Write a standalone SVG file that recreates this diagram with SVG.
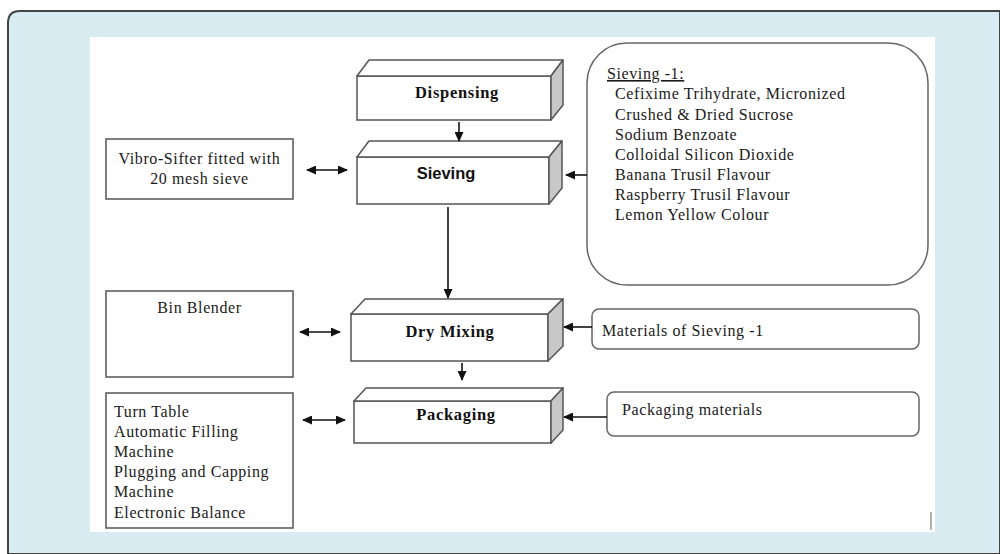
<svg xmlns="http://www.w3.org/2000/svg" width="1000" height="554" viewBox="0 0 1000 554">
<defs>
<marker id="ah" markerUnits="userSpaceOnUse" markerWidth="10" markerHeight="9" refX="9" refY="4.5" orient="auto-start-reverse">
<path d="M0,0 L10,4.5 L0,9 Z" fill="#111"/>
</marker>
</defs>
<style>
.box{fill:#fff;stroke:#555;stroke-width:1.5}
.side{fill:#c8c8c8;stroke:#555;stroke-width:1.5;stroke-linejoin:round}
.top{fill:#fff;stroke:#555;stroke-width:1.5;stroke-linejoin:round}
.lbl{font-family:"Liberation Serif",serif;font-weight:bold;font-size:16.5px;letter-spacing:0.7px;fill:#111;text-anchor:middle}
.txt{font-family:"Liberation Serif",serif;font-size:16px;letter-spacing:0.6px;fill:#1a1a1a}
.con{stroke:#111;stroke-width:1.6;fill:none}
</style>
<rect x="0" y="0" width="1000" height="554" fill="#fff"/>
<path d="M8,554 L8,23 Q8,11 20,11 L1000,11 L1000,554 Z" fill="#d8ecf1" stroke="#444" stroke-width="2"/>
<rect x="90" y="37" width="845" height="495" fill="#fff"/>
<line x1="931" y1="512" x2="931" y2="530" stroke="#999" stroke-width="1.5"/>

<g id="dispensing">
<rect class="box" x="357" y="76" width="194" height="44"/>
<path class="top" d="M357,76 L369,60 L563,60 L551,76 Z"/>
<path class="side" d="M551,76 L563,60 L563,105 L551,120 Z"/>
<text class="lbl" x="457" y="98">Dispensing</text>
</g>

<g id="sieving">
<rect class="box" x="357" y="157" width="192" height="47"/>
<path class="top" d="M357,157 L369,141 L562,141 L549,157 Z"/>
<path class="side" d="M549,157 L562,141 L562,188 L549,204 Z"/>
<text x="446" y="179" style="font-family:'Liberation Sans',Arial,sans-serif;font-weight:bold;font-size:16.5px;fill:#111;text-anchor:middle">Sieving</text>
</g>

<g id="drymixing">
<rect class="box" x="351" y="314" width="197" height="47"/>
<path class="top" d="M351,314 L365,299 L563,299 L548,314 Z"/>
<path class="side" d="M548,314 L563,299 L563,346 L548,361 Z"/>
<text class="lbl" x="450" y="337">Dry Mixing</text>
</g>

<g id="packaging">
<rect class="box" x="354" y="401" width="197" height="42"/>
<path class="top" d="M354,401 L366,388 L563,388 L551,401 Z"/>
<path class="side" d="M551,401 L563,388 L563,430 L551,443 Z"/>
<text class="lbl" x="456" y="420">Packaging</text>
</g>

<g id="vibrosifter">
<rect class="box" x="106" y="139" width="187" height="60"/>
<text class="txt" x="199.5" y="164" text-anchor="middle">Vibro-Sifter fitted with</text>
<text class="txt" x="199.5" y="184" text-anchor="middle">20 mesh sieve</text>
</g>

<g id="binblender">
<rect class="box" x="106" y="291" width="187" height="86"/>
<text class="txt" x="199.5" y="313" text-anchor="middle">Bin Blender</text>
</g>

<g id="equipment">
<rect class="box" x="106" y="393" width="187" height="135"/>
<text class="txt" x="114" y="417">Turn Table</text>
<text class="txt" x="114" y="437">Automatic Filling</text>
<text class="txt" x="114" y="457">Machine</text>
<text class="txt" x="114" y="477">Plugging and Capping</text>
<text class="txt" x="114" y="497">Machine</text>
<text class="txt" x="114" y="518">Electronic Balance</text>
</g>

<g id="sieving1">
<rect x="587" y="43" width="341" height="242" rx="40" ry="40" fill="#fff" stroke="#666" stroke-width="1.5"/>
<text class="txt" x="607" y="79" text-decoration="underline">Sieving -1:</text>
<text class="txt" x="615" y="99">Cefixime Trihydrate, Micronized</text>
<text class="txt" x="615" y="120">Crushed &amp; Dried Sucrose</text>
<text class="txt" x="615" y="140">Sodium Benzoate</text>
<text class="txt" x="615" y="160">Colloidal Silicon Dioxide</text>
<text class="txt" x="615" y="180">Banana Trusil Flavour</text>
<text class="txt" x="615" y="200">Raspberry Trusil Flavour</text>
<text class="txt" x="615" y="220">Lemon Yellow Colour</text>
</g>

<g id="materials">
<rect x="592" y="309" width="327" height="40" rx="7" ry="7" fill="#fff" stroke="#666" stroke-width="1.5"/>
<text class="txt" x="602" y="336">Materials of Sieving -1</text>
</g>

<g id="packmaterials">
<rect x="607" y="392" width="312" height="44" rx="7" ry="7" fill="#fff" stroke="#666" stroke-width="1.5"/>
<text class="txt" x="622" y="415">Packaging materials</text>
</g>

<g id="connectors">
<line class="con" x1="459" y1="122" x2="459" y2="141" marker-end="url(#ah)"/>
<line class="con" x1="448" y1="207" x2="448" y2="298" marker-end="url(#ah)"/>
<line class="con" x1="462" y1="363" x2="462" y2="380" marker-end="url(#ah)"/>
<line class="con" x1="587" y1="175" x2="566" y2="175" marker-end="url(#ah)"/>
<line class="con" x1="592" y1="327" x2="564" y2="327" marker-end="url(#ah)"/>
<line class="con" x1="607" y1="417" x2="564" y2="417" marker-end="url(#ah)"/>
<line class="con" x1="307" y1="170" x2="347" y2="170" marker-start="url(#ah)" marker-end="url(#ah)"/>
<line class="con" x1="300" y1="332" x2="340" y2="332" marker-start="url(#ah)" marker-end="url(#ah)"/>
<line class="con" x1="303" y1="420" x2="345" y2="420" marker-start="url(#ah)" marker-end="url(#ah)"/>
</g>
</svg>
